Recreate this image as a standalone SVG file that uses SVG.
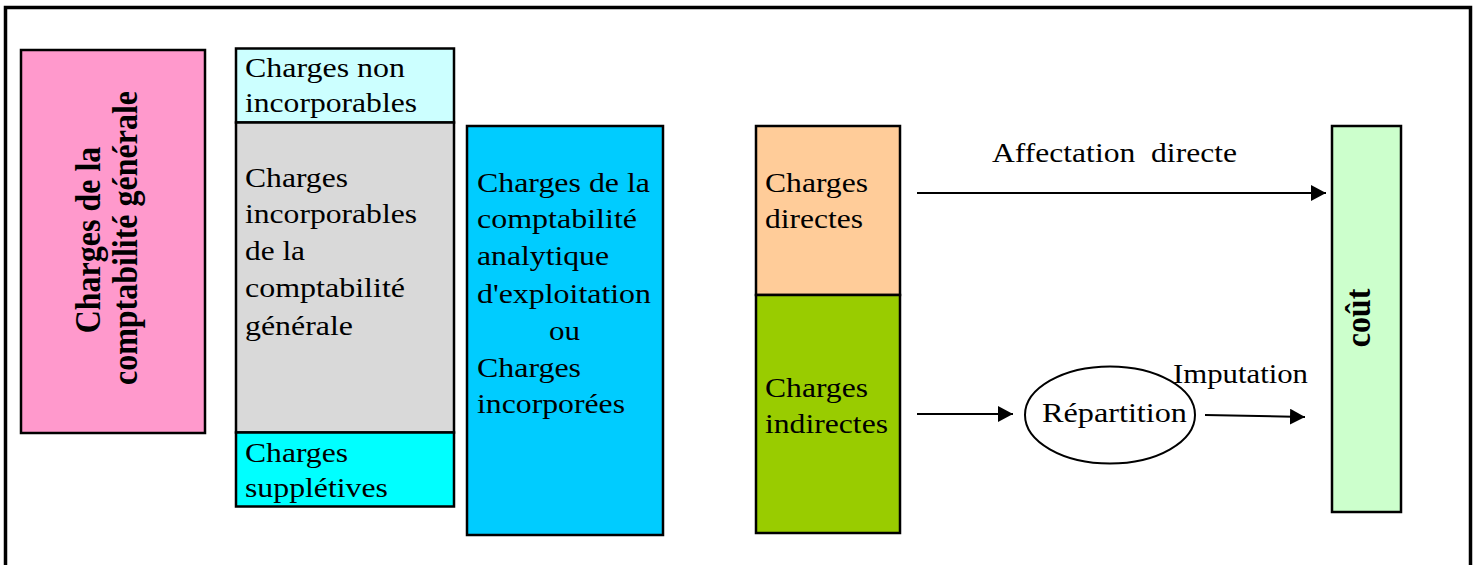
<svg xmlns="http://www.w3.org/2000/svg" width="1479" height="565" viewBox="0 0 1479 565">
<defs>
<style>
.box{stroke:#000;stroke-width:2.5}
.t{font-family:"Liberation Serif","Times New Roman",serif;font-size:28px;fill:#000}
.tb{font-family:"Liberation Serif","Times New Roman",serif;font-size:32px;font-weight:bold;fill:#000;text-anchor:middle}
.conn{stroke:#000;stroke-width:2;fill:none;marker-end:url(#ah)}
</style>
<marker id="ah" markerUnits="userSpaceOnUse" markerWidth="16" markerHeight="16" refX="15" refY="8" orient="auto">
<path d="M0,0 L15,8 L0,16 Z" fill="#000"/>
</marker>
</defs>
<rect width="1479" height="565" fill="#fff"/>
<path d="M5.5,570 V7.5 H1470.5 V570" fill="none" stroke="#000" stroke-width="3.5"/>

<g id="cg">
<rect class="box" x="21" y="50" width="184" height="383" fill="#FF99CC"/>
<text class="tb" transform="translate(100,240) scale(1.13,1) rotate(-90)">Charges de la</text>
<text class="tb" transform="translate(137,238) scale(1.13,1) rotate(-90)">comptabilité générale</text>
</g>

<g id="non-incorporables">
<rect class="box" x="236" y="48.5" width="218" height="74" fill="#CCFFFF"/>
<text class="t" x="245" y="77" textLength="160" lengthAdjust="spacingAndGlyphs">Charges non</text>
<text class="t" x="245" y="112" textLength="172" lengthAdjust="spacingAndGlyphs">incorporables</text>
</g>

<g id="incorporables">
<rect class="box" x="236" y="122.5" width="218" height="310" fill="#D9D9D9"/>
<text class="t" x="245" y="187" textLength="103" lengthAdjust="spacingAndGlyphs">Charges</text>
<text class="t" x="245" y="223" textLength="172" lengthAdjust="spacingAndGlyphs">incorporables</text>
<text class="t" x="245" y="260" textLength="60" lengthAdjust="spacingAndGlyphs">de la</text>
<text class="t" x="245" y="297" textLength="160" lengthAdjust="spacingAndGlyphs">comptabilité</text>
<text class="t" x="245" y="335" textLength="108" lengthAdjust="spacingAndGlyphs">générale</text>
</g>

<g id="suppletives">
<rect class="box" x="236" y="432.5" width="218" height="74" fill="#00FFFF"/>
<text class="t" x="245" y="462" textLength="103" lengthAdjust="spacingAndGlyphs">Charges</text>
<text class="t" x="245" y="497" textLength="143" lengthAdjust="spacingAndGlyphs">supplétives</text>
</g>

<g id="incorporees">
<rect class="box" x="467" y="126" width="196" height="409" fill="#00CCFF"/>
<text class="t" x="477" y="192" textLength="173" lengthAdjust="spacingAndGlyphs">Charges de la</text>
<text class="t" x="477" y="228" textLength="160" lengthAdjust="spacingAndGlyphs">comptabilité</text>
<text class="t" x="477" y="265" textLength="132" lengthAdjust="spacingAndGlyphs">analytique</text>
<text class="t" x="477" y="303" textLength="174" lengthAdjust="spacingAndGlyphs">d'exploitation</text>
<text class="t" x="549" y="340" textLength="31" lengthAdjust="spacingAndGlyphs">ou</text>
<text class="t" x="477" y="377" textLength="104" lengthAdjust="spacingAndGlyphs">Charges</text>
<text class="t" x="477" y="413" textLength="148" lengthAdjust="spacingAndGlyphs">incorporées</text>
</g>

<g id="directes">
<rect class="box" x="756" y="126" width="144" height="169" fill="#FFCC99"/>
<text class="t" x="765" y="192" textLength="103" lengthAdjust="spacingAndGlyphs">Charges</text>
<text class="t" x="765" y="228" textLength="98" lengthAdjust="spacingAndGlyphs">directes</text>
</g>

<g id="indirectes">
<rect class="box" x="756" y="295" width="144" height="238" fill="#99CC00"/>
<text class="t" x="765" y="397" textLength="103" lengthAdjust="spacingAndGlyphs">Charges</text>
<text class="t" x="765" y="433" textLength="123" lengthAdjust="spacingAndGlyphs">indirectes</text>
</g>

<g id="repartition">
<ellipse cx="1110" cy="415" rx="85" ry="48.5" fill="#fff" stroke="#000" stroke-width="2"/>
<text class="t" x="1042" y="422" textLength="145" lengthAdjust="spacingAndGlyphs">Répartition</text>
</g>

<g id="cout">
<rect class="box" x="1332" y="126" width="69" height="386" fill="#CCFFCC"/>
<text class="tb" transform="translate(1370,318) scale(1.13,1) rotate(-90)">coût</text>
</g>

<g id="connectors">
<line class="conn" x1="917" y1="193" x2="1326" y2="193"/>
<line class="conn" x1="917" y1="414" x2="1013" y2="414"/>
<line class="conn" x1="1205" y1="415" x2="1305" y2="417"/>
<text class="t" x="992" y="162" textLength="245" lengthAdjust="spacingAndGlyphs" xml:space="preserve">Affectation  directe</text>
<text class="t" x="1173" y="383" textLength="135" lengthAdjust="spacingAndGlyphs">Imputation</text>
</g>
</svg>
